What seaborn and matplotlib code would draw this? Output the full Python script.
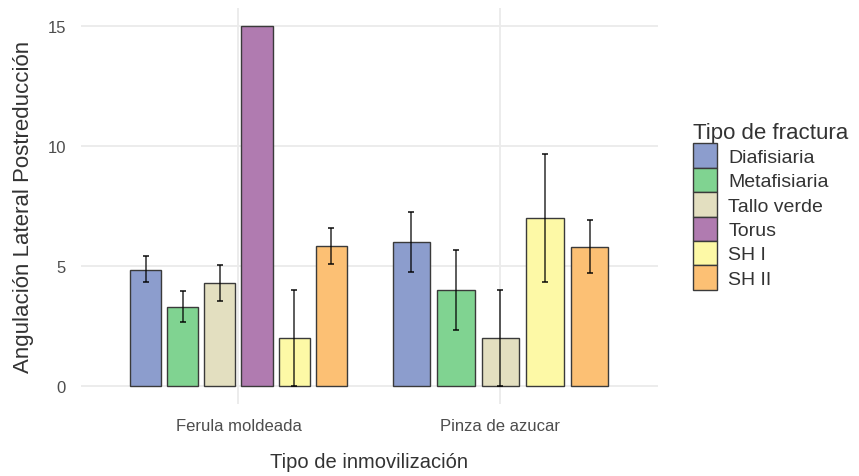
import numpy as np
import pandas as pd
import seaborn as sns
import matplotlib.pyplot as plt

# datos resumidos (media y limites del error)
grupos = ["Ferula moldeada", "Pinza de azucar"]
tipos = ["Diafisiaria", "Metafisiaria", "Tallo verde", "Torus", "SH I", "SH II"]
colores = ["#8C9DCD", "#80D391", "#E3DFC0", "#B07BB0", "#FDF9A6", "#FCC074"]

ferula_media = [4.85, 3.3, 4.3, 15.0, 2.0, 5.85]
ferula_lo = [4.35, 2.65, 3.55, np.nan, 0.0, 5.1]
ferula_hi = [5.4, 3.95, 5.05, np.nan, 4.0, 6.6]

pinza_tipos = ["Diafisiaria", "Metafisiaria", "Tallo verde", "SH I", "SH II"]
pinza_media = [6.0, 4.0, 2.0, 7.0, 5.8]
pinza_lo = [4.75, 2.35, 0.0, 4.35, 4.7]
pinza_hi = [7.25, 5.65, 4.0, 9.65, 6.9]

df_f = pd.DataFrame({"grupo": grupos[0], "tipo": tipos, "media": ferula_media,
                     "lo": ferula_lo, "hi": ferula_hi})
df_p = pd.DataFrame({"grupo": grupos[1], "tipo": pinza_tipos, "media": pinza_media,
                     "lo": pinza_lo, "hi": pinza_hi})
pal = dict(zip(tipos, colores))

sns.set_theme(style="white")
plt.rcParams['font.family'] = ['Liberation Sans', 'DejaVu Sans']

fig = plt.figure(figsize=(8.59, 4.77), dpi=100)
ax = fig.add_axes([0.0946, 0.151, 0.671, 0.830])

for d, ho, leg in [(df_f, tipos, True), (df_p, pinza_tipos, False)]:
    n0 = len(ax.containers)
    sns.barplot(data=d, x="grupo", y="media", hue="tipo", order=grupos, hue_order=ho,
                palette=pal, width=0.85, gap=0.16, errorbar=None, legend=leg,
                edgecolor="#3a3a3a", linewidth=1.0, saturation=1, ax=ax)
    # barras de error sobre el centro de cada barra
    info = d.set_index("tipo")
    for tipo, cont in zip(ho, ax.containers[n0:]):
        row = info.loc[tipo]
        if np.isnan(row["lo"]):
            continue
        for bar in cont:
            if np.isnan(bar.get_height()):
                continue
            xc = bar.get_x() + bar.get_width() / 2
            ax.errorbar(xc, row["media"],
                        yerr=[[row["media"] - row["lo"]], [row["hi"] - row["media"]]],
                        fmt="none", ecolor="black", alpha=0.75, elinewidth=1.2, capsize=2.2,
                        capthick=1.4, zorder=4)

ax.set_xlim(-0.6, 1.6)
ax.set_ylim(-0.75, 15.75)
ax.set_yticks([0, 5, 10, 15])
ax.grid(True, color="#EBEBEB", linewidth=1.3)
ax.set_axisbelow(True)
for s in ax.spines.values():
    s.set_visible(False)
ax.tick_params(axis="both", length=0, labelsize=12, labelcolor="#4D4D4D")
ax.tick_params(axis="y", pad=11)
ax.tick_params(axis="x", pad=10)
ax.set_xlabel("Tipo de inmovilización", fontsize=14.5, color="#333333", labelpad=14)
ax.set_ylabel("Angulación Lateral Postreducción", fontsize=16, color="#333333", labelpad=10)

leg = ax.legend(title="Tipo de fractura", loc="center left", bbox_to_anchor=(1.047, 0.5),
                frameon=False, fontsize=14, title_fontsize=16, handlelength=1.25,
                handleheight=1.55, labelspacing=0.0, handletextpad=0.6, borderaxespad=0)
leg._legend_box.align = "left"
for t in leg.get_texts():
    t.set_color("#333333")
leg.get_title().set_color("#333333")

fig.savefig("out.png", dpi=100)
